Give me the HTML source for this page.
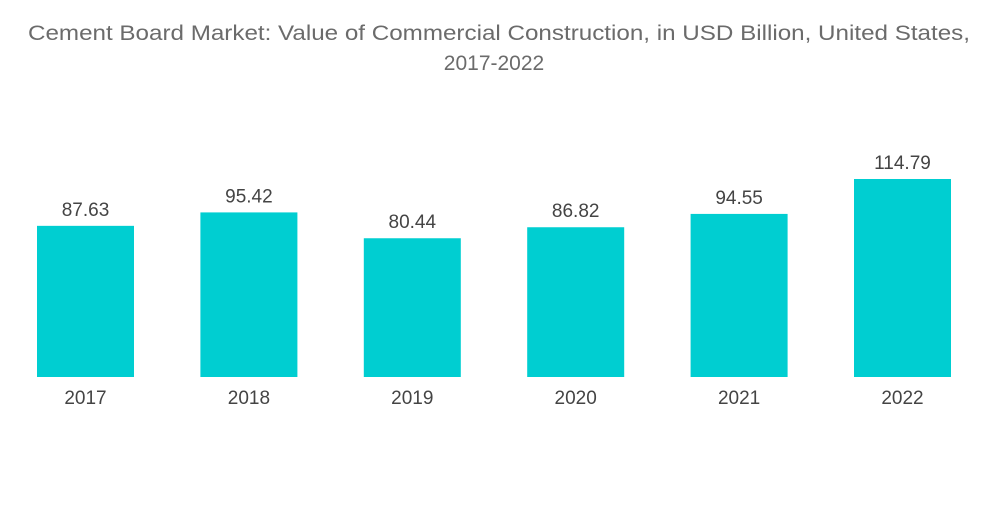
<!DOCTYPE html>
<html><head><meta charset="utf-8">
<style>
body{margin:0;background:#fff;width:1000px;height:504px;overflow:hidden;font-family:"Liberation Sans",sans-serif;}
</style></head>
<body>
<svg width="1000" height="504">
<text x="28" y="40" textLength="942" lengthAdjust="spacingAndGlyphs" font-size="21" fill="#6b6b6b" font-family="Liberation Sans, sans-serif">Cement Board Market: Value of Commercial Construction, in USD Billion, United States,</text>
<text x="494" y="70" text-anchor="middle" font-size="21" fill="#6b6b6b" font-family="Liberation Sans, sans-serif">2017-2022</text>
<g id="bars"></g>
</svg>
<script>
const categories=["2017","2018","2019","2020","2021","2022"];
const values=[87.63,95.42,80.44,86.82,94.55,114.79];
const labels=["87.63","95.42","80.44","86.82","94.55","114.79"];
const baseY=377, scale=198/114.79, x0=37, step=163.4, bw=97;
function xPos(i){return x0+i*step;}
function yPos(v){return baseY-v*scale;}
const g=document.getElementById('bars');
const ns="http://www.w3.org/2000/svg";
categories.forEach((c,i)=>{
  const r=document.createElementNS(ns,'rect');
  
  
  r.setAttribute('x',xPos(i));r.setAttribute('y',yPos(values[i]));
  r.setAttribute('width',bw);r.setAttribute('height',baseY-yPos(values[i]));
  r.setAttribute('fill','#00ced1');g.appendChild(r);
  const t=document.createElementNS(ns,'text');
  
  
  t.setAttribute('x',xPos(i)+bw/2);t.setAttribute('y',yPos(values[i])-10);
  t.setAttribute('text-anchor','middle');t.setAttribute('font-size','19');t.setAttribute('fill','#444');
  t.textContent=labels[i];g.appendChild(t);
  const a=document.createElementNS(ns,'text');
  
  
  a.setAttribute('x',xPos(i)+bw/2);a.setAttribute('y',404);
  a.setAttribute('text-anchor','middle');a.setAttribute('font-size','19');a.setAttribute('fill','#444');
  a.textContent=c;g.appendChild(a);
});
</script>
</body></html>
